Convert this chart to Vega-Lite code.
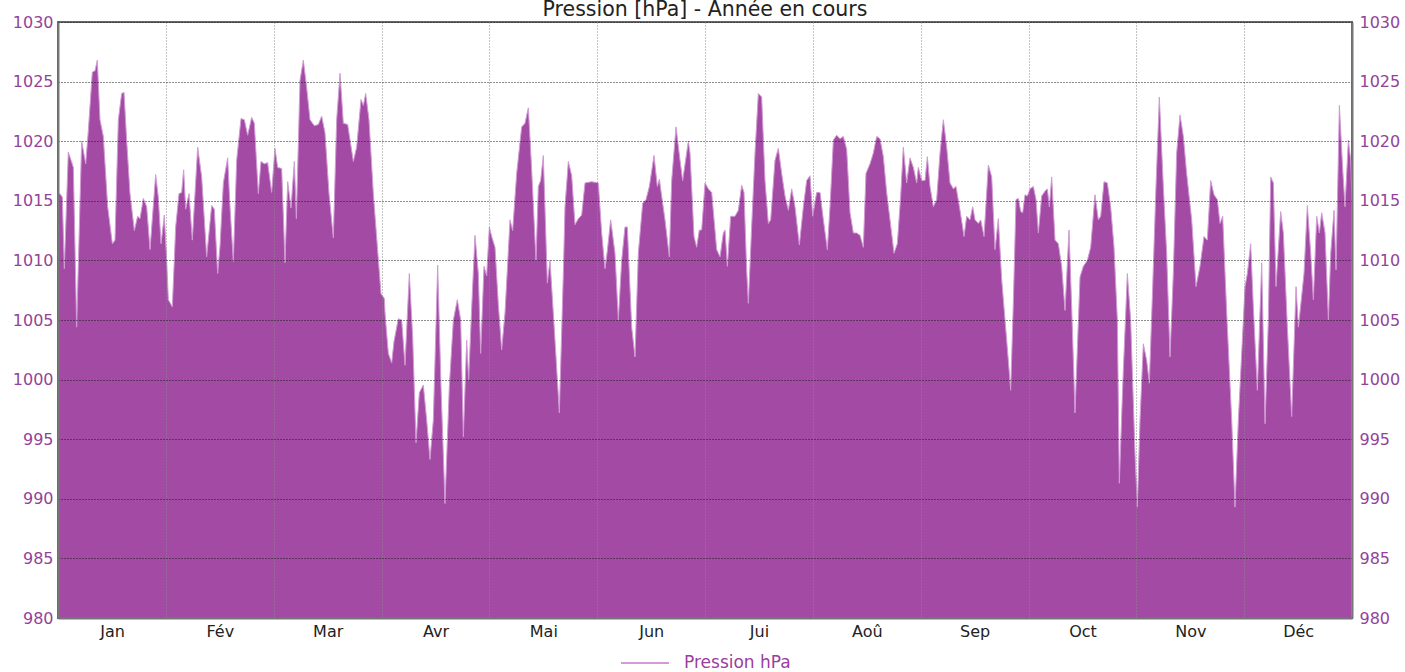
{
"$schema": "https://vega.github.io/schema/vega-lite/v6.json",
"width": 1294, "height": 596,
"autosize": {"type": "none"},
"padding": {"left": 58, "top": 22, "right": 53, "bottom": 54},
"background": "white",
"title": {"text": "Pression [hPa] - Année en cours", "frame": "group", "anchor": "middle", "offset": -22, "baseline": "alphabetic", "fontSize": 20.5, "font": "DejaVu Sans", "fontWeight": "normal", "color": "#222222"},
"config": {"font": "DejaVu Sans", "view": {"stroke": "#666666", "strokeWidth": 2}},
"data": {"values": [
{"t":0,"pression":1015.5},{"t":0.56,"pression":1015.6},{"t":1.2,"pression":1015.3},{"t":1.76,"pression":1009.3},{"t":2.87,"pression":1019.1},{"t":3.62,"pression":1018.4},{"t":4.27,"pression":1017.8},{"t":5.19,"pression":1004.4},{"t":6.58,"pression":1020.0},{"t":7.70,"pression":1018.1},{"t":8.44,"pression":1020.9},{"t":9.55,"pression":1025.8},{"t":10.29,"pression":1025.9},{"t":10.94,"pression":1026.8},{"t":11.68,"pression":1021.8},{"t":12.61,"pression":1020.4},{"t":13.82,"pression":1014.5},{"t":15.12,"pression":1011.4},{"t":15.86,"pression":1011.7},{"t":16.79,"pression":1021.8},{"t":17.71,"pression":1024.0},{"t":18.36,"pression":1024.1},{"t":19.10,"pression":1020.1},{"t":20.03,"pression":1015.6},{"t":21.24,"pression":1012.5},{"t":22.16,"pression":1013.7},{"t":22.81,"pression":1013.5},{"t":23.74,"pression":1015.2},{"t":24.67,"pression":1014.5},{"t":25.60,"pression":1010.9},{"t":27.17,"pression":1017.2},{"t":27.91,"pression":1015.3},{"t":28.66,"pression":1011.4},{"t":29.58,"pression":1013.8},{"t":30.23,"pression":1010.0},{"t":30.70,"pression":1006.7},{"t":31.81,"pression":1006.1},{"t":32.74,"pression":1012.8},{"t":33.66,"pression":1015.6},{"t":34.41,"pression":1015.7},{"t":34.96,"pression":1017.6},{"t":35.52,"pression":1014.3},{"t":36.45,"pression":1015.6},{"t":37.37,"pression":1011.7},{"t":38.86,"pression":1019.5},{"t":39.97,"pression":1017.0},{"t":41.36,"pression":1010.3},{"t":42.75,"pression":1014.6},{"t":43.49,"pression":1014.3},{"t":44.42,"pression":1008.9},{"t":45.07,"pression":1011.2},{"t":46.0,"pression":1016.5},{"t":47.20,"pression":1018.6},{"t":47.85,"pression":1014.5},{"t":48.78,"pression":1009.9},{"t":49.71,"pression":1018.4},{"t":50.91,"pression":1021.9},{"t":51.84,"pression":1021.8},{"t":52.77,"pression":1020.5},{"t":53.88,"pression":1022.0},{"t":54.62,"pression":1021.5},{"t":55.73,"pression":1015.6},{"t":56.48,"pression":1018.3},{"t":57.40,"pression":1018.1},{"t":58.33,"pression":1018.2},{"t":59.44,"pression":1015.7},{"t":60.37,"pression":1019.4},{"t":61.11,"pression":1017.8},{"t":62.23,"pression":1017.7},{"t":63.15,"pression":1009.8},{"t":63.90,"pression":1016.6},{"t":64.82,"pression":1014.4},{"t":65.75,"pression":1018.3},{"t":66.31,"pression":1013.5},{"t":67.33,"pression":1025.1},{"t":68.25,"pression":1026.8},{"t":69.18,"pression":1024.5},{"t":70.11,"pression":1021.8},{"t":71.31,"pression":1021.3},{"t":72.43,"pression":1021.4},{"t":73.35,"pression":1022.1},{"t":74.28,"pression":1020.7},{"t":75.40,"pression":1015.6},{"t":76.60,"pression":1011.9},{"t":77.53,"pression":1021.8},{"t":78.46,"pression":1025.7},{"t":79.38,"pression":1021.5},{"t":80.59,"pression":1021.4},{"t":82.16,"pression":1018.3},{"t":83.09,"pression":1019.5},{"t":84.30,"pression":1023.5},{"t":84.95,"pression":1023.0},{"t":85.60,"pression":1024.0},{"t":86.52,"pression":1021.8},{"t":87.73,"pression":1015.6},{"t":89.12,"pression":1010.1},{"t":89.86,"pression":1007.2},{"t":90.79,"pression":1006.8},
{"t":90.97,"pression":1005.6},{"t":91.90,"pression":1002.2},{"t":92.83,"pression":1001.4},{"t":93.48,"pression":1003.2},{"t":94.68,"pression":1005.1},{"t":95.61,"pression":1005.0},{"t":96.54,"pression":1001.2},{"t":97.74,"pression":1008.9},{"t":98.67,"pression":1003.6},{"t":99.60,"pression":994.7},{"t":100.53,"pression":998.9},{"t":101.64,"pression":999.55},{"t":102.57,"pression":996.6},{"t":103.49,"pression":993.3},{"t":104.42,"pression":996.6},{"t":105.63,"pression":1009.6},{"t":106.55,"pression":999.4},{"t":107.67,"pression":989.6},{"t":108.87,"pression":999.4},{"t":109.99,"pression":1005.0},{"t":111.10,"pression":1006.7},{"t":112.03,"pression":1005.0},{"t":112.77,"pression":995.2},{"t":113.70,"pression":1003.3},{"t":114.25,"pression":1000.0},{"t":115.09,"pression":1006.0},{"t":116.01,"pression":1012.1},{"t":116.94,"pression":1008.9},{"t":117.59,"pression":1002.2},{"t":118.52,"pression":1009.5},{"t":119.26,"pression":1008.7},{"t":120.00,"pression":1012.8},{"t":120.65,"pression":1012.0},{"t":121.58,"pression":1011.1},{"t":122.51,"pression":1006.3},{"t":123.43,"pression":1002.5},{"t":124.36,"pression":1005.6},{"t":125.75,"pression":1013.4},{"t":126.49,"pression":1012.5},{"t":127.61,"pression":1017.3},{"t":129.0,"pression":1021.2},{"t":129.92,"pression":1021.5},{"t":130.85,"pression":1022.8},{"t":131.78,"pression":1017.6},{"t":132.98,"pression":1010.0},{"t":133.63,"pression":1016.2},{"t":134.28,"pression":1016.7},{"t":135.02,"pression":1018.8},{"t":136.14,"pression":1008.1},{"t":136.88,"pression":1010.0},{"t":138.27,"pression":1003.3},{"t":139.48,"pression":997.2},{"t":140.59,"pression":1008.9},{"t":141.05,"pression":1014.5},{"t":141.98,"pression":1018.3},{"t":142.91,"pression":1017.1},{"t":143.83,"pression":1013.0},{"t":144.76,"pression":1013.5},{"t":145.69,"pression":1013.8},{"t":146.62,"pression":1016.5},{"t":148.47,"pression":1016.6},{"t":150.33,"pression":1016.5},{"t":151.25,"pression":1012.3},{"t":152.18,"pression":1009.3},{"t":152.83,"pression":1010.8},{"t":153.76,"pression":1013.4},{"t":154.96,"pression":1010.6},{"t":155.89,"pression":1005.0},{"t":156.82,"pression":1010.0},{"t":157.74,"pression":1012.8},{"t":158.39,"pression":1012.8},{"t":159.60,"pression":1004.4},{"t":160.53,"pression":1001.9},{"t":161.45,"pression":1010.6},{"t":162.66,"pression":1014.8},{"t":163.59,"pression":1015.1},{"t":164.52,"pression":1016.2},{"t":165.81,"pression":1018.8},{"t":166.74,"pression":1016.2},{"t":167.30,"pression":1016.8},{"t":168.87,"pression":1013.4},{"t":170.08,"pression":1010.3},{"t":170.73,"pression":1016.7},{"t":171.94,"pression":1021.2},{"t":173.05,"pression":1018.4},{"t":173.79,"pression":1016.7},{"t":175.37,"pression":1020.0},
{"t":175.83,"pression":1019.0},{"t":176.94,"pression":1012.0},{"t":177.68,"pression":1011.1},{"t":178.42,"pression":1012.55},{"t":179.08,"pression":1012.55},{"t":180.0,"pression":1016.5},{"t":180.93,"pression":1016.0},{"t":181.86,"pression":1015.7},{"t":183.25,"pression":1010.9},{"t":184.18,"pression":1010.3},{"t":185.10,"pression":1012.3},{"t":185.57,"pression":1012.55},{"t":186.22,"pression":1009.5},{"t":187.14,"pression":1013.7},{"t":188.35,"pression":1013.7},{"t":189.27,"pression":1014.2},{"t":190.20,"pression":1016.3},{"t":190.85,"pression":1015.7},{"t":191.59,"pression":1009.2},{"t":192.06,"pression":1006.4},{"t":192.98,"pression":1012.8},{"t":193.91,"pression":1019.0},{"t":194.84,"pression":1024.0},{"t":195.77,"pression":1023.7},{"t":196.69,"pression":1016.7},{"t":197.62,"pression":1013.1},{"t":198.27,"pression":1013.4},{"t":199.48,"pression":1018.4},{"t":200.40,"pression":1019.4},{"t":201.33,"pression":1017.3},{"t":202.26,"pression":1015.4},{"t":203.19,"pression":1014.2},{"t":204.12,"pression":1016.0},{"t":205.04,"pression":1014.5},{"t":206.25,"pression":1011.3},{"t":207.36,"pression":1014.5},{"t":208.29,"pression":1016.7},{"t":209.21,"pression":1017.1},{"t":209.96,"pression":1013.7},{"t":211.07,"pression":1015.7},{"t":212.0,"pression":1015.7},{"t":212.93,"pression":1013.4},{"t":214.04,"pression":1010.9},{"t":214.78,"pression":1014.5},{"t":215.71,"pression":1020.1},{"t":216.64,"pression":1020.5},{"t":217.56,"pression":1020.2},{"t":218.49,"pression":1020.4},{"t":219.42,"pression":1019.3},{"t":220.35,"pression":1014.0},{"t":221.27,"pression":1012.3},{"t":222.20,"pression":1012.3},{"t":223.13,"pression":1012.1},{"t":224.05,"pression":1011.1},{"t":224.79,"pression":1017.3},{"t":225.91,"pression":1018.1},{"t":226.83,"pression":1019.0},{"t":227.76,"pression":1020.4},{"t":228.69,"pression":1020.2},{"t":229.62,"pression":1018.7},{"t":230.54,"pression":1015.7},{"t":231.47,"pression":1013.4},{"t":232.58,"pression":1010.6},{"t":233.51,"pression":1011.4},{"t":234.44,"pression":1015.4},{"t":235.18,"pression":1019.5},{"t":236.11,"pression":1016.5},{"t":237.03,"pression":1018.6},{"t":237.96,"pression":1017.8},{"t":238.89,"pression":1016.5},{"t":239.35,"pression":1017.8},{"t":240.28,"pression":1016.7},{"t":241.21,"pression":1016.7},{"t":241.86,"pression":1018.7},{"t":242.60,"pression":1016.2},{"t":243.53,"pression":1014.5},{"t":244.45,"pression":1015.1},{"t":245.38,"pression":1019.0},{"t":246.31,"pression":1021.8},{"t":247.24,"pression":1019.5},{"t":248.16,"pression":1016.5},{"t":249.09,"pression":1016.0},{"t":249.83,"pression":1016.2},{"t":250.95,"pression":1014.2},{"t":252.06,"pression":1012.0},{"t":252.80,"pression":1013.7},{"t":253.73,"pression":1013.4},{"t":254.47,"pression":1014.5},{"t":255.12,"pression":1013.4},{"t":256.05,"pression":1013.1},{"t":256.70,"pression":1013.4},{"t":257.63,"pression":1012.0},{"t":258.83,"pression":1018.0},{"t":259.76,"pression":1017.0},{"t":260.68,"pression":1010.9},{"t":261.61,"pression":1013.5},{"t":262.54,"pression":1008.4},{"t":263.47,"pression":1005.0},{"t":264.39,"pression":1001.6},{"t":265.04,"pression":999.1},{"t":265.78,"pression":1006.4},
{"t":266.53,"pression":1015.1},{"t":267.18,"pression":1015.2},{"t":267.83,"pression":1014.1},{"t":268.38,"pression":1014.0},{"t":269.03,"pression":1015.5},{"t":269.68,"pression":1015.4},{"t":270.42,"pression":1016.0},{"t":271.35,"pression":1016.2},{"t":272.09,"pression":1015.1},{"t":272.74,"pression":1012.3},{"t":273.67,"pression":1015.4},{"t":274.59,"pression":1015.8},{"t":275.24,"pression":1016.0},{"t":275.80,"pression":1014.5},{"t":276.45,"pression":1017.0},{"t":277.38,"pression":1011.7},{"t":278.30,"pression":1011.4},{"t":279.23,"pression":1009.5},{"t":280.16,"pression":1005.8},{"t":281.27,"pression":1012.55},{"t":282.01,"pression":1006.1},{"t":282.94,"pression":997.2},{"t":284.33,"pression":1008.6},{"t":285.26,"pression":1009.5},{"t":286.37,"pression":1010.0},{"t":287.30,"pression":1011.1},{"t":288.50,"pression":1015.5},{"t":289.43,"pression":1013.4},{"t":290.08,"pression":1013.7},{"t":291.01,"pression":1016.6},{"t":291.93,"pression":1016.5},{"t":292.86,"pression":1014.5},{"t":293.79,"pression":1011.1},{"t":294.72,"pression":1005.0},{"t":295.27,"pression":991.3},{"t":296.20,"pression":999.4},{"t":297.50,"pression":1008.9},{"t":298.42,"pression":1005.0},{"t":299.63,"pression":993.8},{"t":300.28,"pression":989.3},{"t":301.02,"pression":996.6},{"t":301.95,"pression":1003.0},{"t":302.88,"pression":1001.6},{"t":303.62,"pression":999.7},{"t":304.55,"pression":1007.8},{"t":305.47,"pression":1016.2},{"t":306.40,"pression":1023.7},{"t":307.51,"pression":1016.2},{"t":308.44,"pression":1010.6},{"t":309.37,"pression":1001.9},{"t":310.29,"pression":1008.9},{"t":311.22,"pression":1019.0},{"t":312.15,"pression":1022.2},{"t":313.08,"pression":1020.4},{"t":314.0,"pression":1017.3},{"t":315.40,"pression":1013.4},{"t":316.60,"pression":1007.8},{"t":317.71,"pression":1009.5},{"t":318.83,"pression":1012.0},{"t":319.75,"pression":1011.7},{"t":320.68,"pression":1016.7},{"t":321.61,"pression":1015.5},{"t":322.54,"pression":1015.1},{"t":323.28,"pression":1013.1},{"t":324.02,"pression":1013.7},{"t":325.14,"pression":1005.6},{"t":326.53,"pression":996.6},{"t":327.45,"pression":989.3},{"t":328.38,"pression":996.6},{"t":329.31,"pression":1002.2},{"t":330.24,"pression":1007.8},{"t":330.89,"pression":1008.9},{"t":331.81,"pression":1011.4},{"t":332.55,"pression":1006.1},{"t":333.67,"pression":999.1},{"t":334.88,"pression":1009.8},{"t":335.81,"pression":996.3},{"t":336.73,"pression":1005.0},{"t":337.38,"pression":1017.0},{"t":338.12,"pression":1016.5},{"t":338.86,"pression":1007.8},{"t":340.16,"pression":1014.1},{"t":340.90,"pression":1012.3},{"t":342.02,"pression":1004.4},{"t":343.22,"pression":996.9},{"t":344.43,"pression":1007.8},{"t":345.08,"pression":1004.4},{"t":346.0,"pression":1007.0},{"t":346.65,"pression":1008.9},{"t":347.58,"pression":1014.6},{"t":348.51,"pression":1010.6},{"t":349.25,"pression":1006.7},{"t":350.18,"pression":1013.7},{"t":350.92,"pression":1012.3},{"t":351.57,"pression":1014.0},{"t":352.50,"pression":1012.3},{"t":353.43,"pression":1005.0},{"t":354.08,"pression":1010.6},{"t":355.0,"pression":1014.2},{"t":355.56,"pression":1009.2},{"t":356.49,"pression":1023.0},{"t":357.42,"pression":1017.6},{"t":358.06,"pression":1014.5},{"t":358.99,"pression":1020.1},{"t":359.64,"pression":1018.4},{"t":360,"pression":1015.0}
]},
"layer": [
{"mark": {"type": "area", "fill": "#a24aa4", "opacity": 1, "fillOpacity": 1, "strokeWidth": 1, "clip": true, "interpolate": "linear"},
 "encoding": {
  "x": {"field": "t", "type": "quantitative", "scale": {"domain": [0, 360], "nice": false, "zero": false},
        "axis": {"values": [0,30,60,90,120,150,180,210,240,270,300,330], "title": null,
                 "labelExpr": "['Jan','Fév','Mar','Avr','Mai','Jun','Jui','Aoû','Sep','Oct','Nov','Déc'][round(datum.value/30)]",
                 "labelOffset": 54, "labelFlush": false, "labelOverlap": false, "labelBound": false,
                 "ticks": false, "grid": true, "gridColor": "#8a8a8a", "gridDash": [1,2], "gridWidth": 1,
                 "domainColor": "#777777", "domainWidth": 2, "labelFontSize": 16, "labelColor": "#222222",
                 "labelPadding": 5, "zindex": 1}},
  "y": {"field": "pression", "type": "quantitative", "scale": {"domain": [980, 1030], "nice": false, "zero": false},
        "axis": {"values": [980,985,990,995,1000,1005,1010,1015,1020,1025,1030], "format": "d", "title": null,
                 "grid": true, "gridColor": "#1a1a1a", "gridDash": [1,2], "gridWidth": 1, "ticks": false,
                 "labelColor": "#93439a", "labelFontSize": 16, "domainColor": "#777777", "domainWidth": 2,
                 "labelPadding": 5, "zindex": 1}},
  "stroke": {"datum": "Pression hPa", "scale": {"range": ["#d29bd5"]},
            "legend": {"orient": "none", "legendX": 562, "legendY": 616, "title": null, "symbolType": "stroke",
                       "symbolStrokeWidth": 2, "symbolSize": 2300, "labelColor": "#9a3d9e", "labelFontSize": 17,
                       "labelOffset": 14}}
 }},
{"mark": {"type": "line", "opacity": 0},
 "encoding": {
  "x": {"field": "t", "type": "quantitative", "scale": {"domain": [0, 360], "nice": false, "zero": false}},
  "y": {"field": "pression", "type": "quantitative", "scale": {"domain": [980, 1030], "nice": false, "zero": false},
        "axis": {"orient": "right", "values": [980,985,990,995,1000,1005,1010,1015,1020,1025,1030], "format": "d", "title": null,
                 "grid": false, "ticks": false, "labelColor": "#93439a", "labelFontSize": 16,
                 "domainColor": "#777777", "domainWidth": 2, "labelPadding": 7, "zindex": 1}}
 }}
],
"resolve": {"axis": {"y": "independent"}}
}
